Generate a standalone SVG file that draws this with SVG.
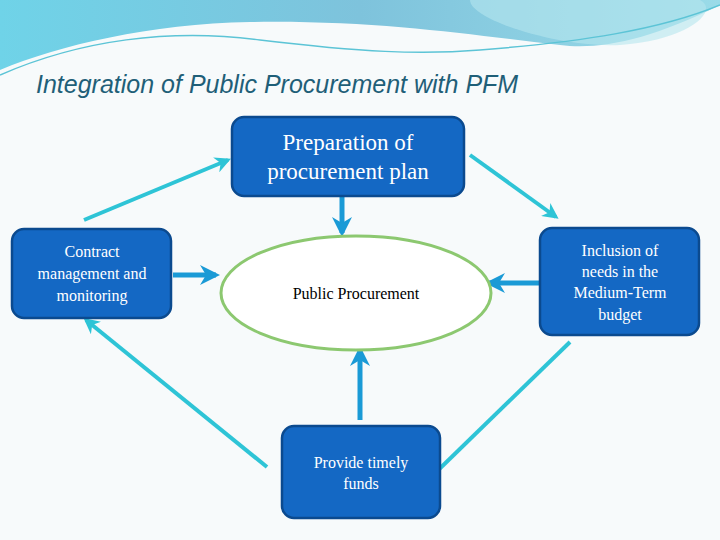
<svg xmlns="http://www.w3.org/2000/svg" width="720" height="540" viewBox="0 0 720 540">
<defs>
<linearGradient id="wave" x1="0" y1="0" x2="1" y2="0"><stop offset="0" stop-color="#6fd3e8"/><stop offset="0.5" stop-color="#7ec3dc"/><stop offset="1" stop-color="#9adbe8"/></linearGradient>
<marker id="ac" viewBox="0 0 10 10" refX="8" refY="5" markerWidth="4" markerHeight="4" orient="auto"><path d="M0,0 L10,5 L0,10 L3,5 z" fill="#2ec4d6"/></marker>
<marker id="ab" viewBox="0 0 10 10" refX="8" refY="5" markerWidth="4" markerHeight="4" orient="auto"><path d="M0,0 L10,5 L0,10 L3,5 z" fill="#1a9ad6"/></marker>
</defs>
<style>
.box{fill:#1468c4;stroke:#0b4a8f;stroke-width:2.5}
.t{font-family:"Liberation Serif",serif;fill:#ffffff;text-anchor:middle}
.c{stroke:#2ec4d6;stroke-width:4;fill:none;marker-end:url(#ac)}
.b{stroke:#1a9ad6;stroke-width:5;fill:none;marker-end:url(#ab)}
</style>
<rect width="720" height="540" fill="#f7fafb"/>
<path d="M0,0 H720 V5 C650,40 600,50 560,45 C470,35 380,20 250,22 C150,24 60,45 0,70 Z" fill="url(#wave)"/>
<path d="M700,0 C720,10 690,40 620,45 C560,48 470,20 470,0 Z" fill="#b5e6ee" opacity="0.6"/>
<path d="M0,75 C80,40 170,28 260,40 C360,52 420,55 480,50 C580,42 660,30 720,5" stroke="#5cc4d6" stroke-width="1.5" fill="none"/>
<text x="36" y="93" font-family="Liberation Sans,sans-serif" font-style="italic" font-size="25" fill="#1f5f78">Integration of  Public Procurement  with PFM</text>
<g id="connectors">
<path class="c" d="M84,220 L228,160"/>
<path class="c" d="M470,155 L556,217"/>
<path class="c" d="M267,467 L86,320"/>
<path class="c" d="M570,342 L427,481"/>
<path class="b" d="M173,275 L216,275"/>
<path class="b" d="M540,283 L489,283"/>
<path class="b" d="M342,197 L342,233"/>
<path class="b" d="M360,420 L360,350"/>
</g>
<g id="plan"><rect class="box" x="232" y="117" width="232" height="79" rx="12"/><text class="t" font-size="23" x="348" y="150">Preparation of</text><text class="t" font-size="23" x="348" y="179">procurement plan</text></g>
<g id="contract"><rect class="box" x="12" y="229" width="159" height="89" rx="12"/><text class="t" font-size="16" x="92" y="257">Contract</text><text class="t" font-size="16" x="92" y="279">management and</text><text class="t" font-size="16" x="92" y="301">monitoring</text></g>
<g id="inclusion"><rect class="box" x="540" y="228" width="159" height="107" rx="12"/><text class="t" font-size="16" x="620" y="256">Inclusion of</text><text class="t" font-size="16" x="620" y="277">needs in the</text><text class="t" font-size="16" x="620" y="298">Medium-Term</text><text class="t" font-size="16" x="620" y="320">budget</text></g>
<g id="procurement"><ellipse cx="356" cy="293" rx="135" ry="57" fill="#ffffff" stroke="#8cc870" stroke-width="3"/><text font-family="Liberation Serif,serif" font-size="16" text-anchor="middle" x="356" y="299" fill="#000">Public Procurement</text></g>
<g id="funds"><rect class="box" x="282" y="426" width="158" height="92" rx="12"/><text class="t" font-size="16" x="361" y="468">Provide  timely</text><text class="t" font-size="16" x="361" y="489">funds</text></g>
</svg>
